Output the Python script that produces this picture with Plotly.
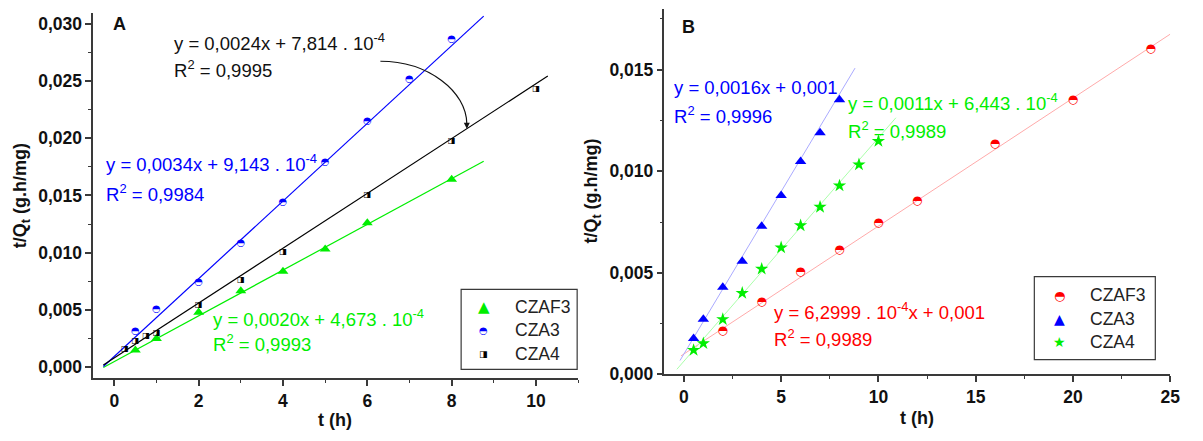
import plotly.graph_objects as go

# ---------------- Panel A : kinetic data (t in h, t/Qt in g.h/mg) ----------------
tA_czaf3 = [0.5, 1, 2, 3, 4, 5, 6, 8]
qA_czaf3 = [0.00145, 0.00247, 0.00477, 0.00664, 0.00835, 0.0103, 0.0126, 0.0164]

tA_cza3 = [0.5, 1, 2, 3, 4, 5, 6, 7, 8]
qA_cza3 = [0.00307, 0.00503, 0.00741, 0.01082, 0.0144, 0.0179, 0.02147, 0.02513, 0.02862]

tA_cza4 = [0.25, 0.5, 0.75, 1, 2, 3, 4, 6, 8, 10]
qA_cza4 = [0.00153, 0.0023, 0.00273, 0.0030, 0.00545, 0.0076, 0.01005, 0.0150, 0.01976, 0.02436]

# linear fits (slope, intercept) and the t-span each fitted line covers
fitA_czaf3 = (0.0020, 4.673e-4)
fitA_cza3 = (0.0034, 9.143e-4)
fitA_cza4 = (0.0024, 7.814e-4)
spanA_czaf3 = (-0.26, 8.76)
spanA_cza3 = (-0.26, 8.76)
spanA_cza4 = (-0.26, 10.28)

# ---------------- Panel B ----------------
tB_czaf3 = [2, 4, 6, 8, 10, 12, 16, 20, 24]
qB_czaf3 = [0.00214, 0.00357, 0.00505, 0.0061, 0.00743, 0.00852, 0.01133, 0.01352, 0.0160]

tB_cza3 = [0.5, 1, 2, 3, 4, 5, 6, 7, 8]
qB_cza3 = [0.00176, 0.00271, 0.00429, 0.00557, 0.00729, 0.00881, 0.01048, 0.0119, 0.01352]

tB_cza4 = [0.5, 1, 2, 3, 4, 5, 6, 7, 8, 9, 10]
qB_cza4 = [0.00119, 0.00152, 0.00271, 0.0040, 0.00519, 0.00624, 0.00733, 0.00824, 0.00929, 0.01033, 0.01148]

fitB_czaf3 = (6.2999e-4, 0.001)
fitB_cza3 = (0.0016, 0.001)
fitB_cza4 = (0.0011, 6.443e-4)
spanB_czaf3 = (-0.15, 25)
spanB_cza3 = (-0.2, 8.8)
spanB_cza4 = (-0.36, 10.9)

series_names = ["CZAF3", "CZA3", "CZA4"]

W, H = 1203, 441
TXT = "Liberation Sans"
GLYPH = "DejaVu Sans"


def fit_line(fit, span):
    a, b = fit
    xs = list(span)
    return xs, [a * x + b for x in xs]


fig = go.Figure()


def add_line(fit, span, color, xa, ya, width=1.2):
    xs, ys = fit_line(fit, span)
    fig.add_trace(go.Scatter(x=xs, y=ys, mode="lines", xaxis=xa, yaxis=ya,
                             line=dict(color=color, width=width),
                             hoverinfo="skip", showlegend=False))


def add_glyphs(xs, ys, glyph, color, size, xa, ya, name):
    fig.add_trace(go.Scatter(x=xs, y=ys, mode="text", text=[glyph] * len(xs),
                             textposition="middle center", name=name,
                             textfont=dict(family=GLYPH, size=size, color=color),
                             xaxis=xa, yaxis=ya, showlegend=False, cliponaxis=False))


def add_markers(xs, ys, symbol, color, size, xa, ya, name):
    fig.add_trace(go.Scatter(x=xs, y=ys, mode="markers", name=name,
                             marker=dict(symbol=symbol, color=color, size=size,
                                         line=dict(width=0)),
                             xaxis=xa, yaxis=ya, showlegend=False, cliponaxis=False))


# Panel A
add_line(fitA_czaf3, spanA_czaf3, "#00ee00", "x", "y")
add_line(fitA_cza3, spanA_cza3, "#0000ff", "x", "y")
add_line(fitA_cza4, spanA_cza4, "#000000", "x", "y")
add_markers(tA_czaf3, qA_czaf3, "triangle-up", "#00ee00", 9.5, "x", "y", series_names[0])
add_glyphs(tA_cza3, qA_cza3, "◓", "#0000ff", 10, "x", "y", series_names[1])
add_glyphs(tA_cza4, qA_cza4, "◨", "#000000", 8, "x", "y", series_names[2])

# Panel B
add_line(fitB_czaf3, spanB_czaf3, "#ffaaaa", "x2", "y2", 1)
add_line(fitB_cza3, spanB_cza3, "#aaaaff", "x2", "y2", 1)
add_line(fitB_cza4, spanB_cza4, "#aaffaa", "x2", "y2", 1)
add_glyphs(tB_czaf3, qB_czaf3, "◓", "#ff0000", 12, "x2", "y2", series_names[0])
add_markers(tB_cza3, qB_cza3, "triangle-up", "#0000ff", 10, "x2", "y2", series_names[1])
add_markers(tB_cza4, qB_cza4, "star", "#00ee00", 10, "x2", "y2", series_names[2])

axis_common = dict(
    showline=True, linecolor="#3a3a3a", linewidth=1.5,
    ticks="outside", ticklen=6, tickwidth=1.5, tickcolor="#3a3a3a",
    showgrid=False, zeroline=False,
    tickfont=dict(family=TXT, size=17.5, color="#111111", weight="bold"),
)

fig.update_layout(
    width=W, height=H, margin=dict(l=0, r=0, t=0, b=0),
    paper_bgcolor="white", plot_bgcolor="white", separators=",.",
    showlegend=False,
    xaxis=dict(domain=[94 / W, 583 / W], range=[-0.5, 11], anchor="y",
               dtick=2, tick0=0, minor=dict(ticks="outside", ticklen=3, dtick=1, tick0=0,
                                            tickcolor="#3a3a3a", tickwidth=1.2),
               **axis_common),
    yaxis=dict(domain=[1 - 387 / H, 1 - 13 / H], range=[-0.001, 0.031], anchor="x",
               dtick=0.005, tick0=0, tickformat=".3f",
               minor=dict(ticks="outside", ticklen=3, dtick=0.0025, tick0=0,
                          tickcolor="#3a3a3a", tickwidth=1.2),
               **axis_common),
    xaxis2=dict(domain=[670 / W, 1180 / W], range=[-1, 25], anchor="y2",
                dtick=5, tick0=0, minor=dict(ticks="outside", ticklen=3, dtick=2.5, tick0=0,
                                             tickcolor="#3a3a3a", tickwidth=1.2),
                **axis_common),
    yaxis2=dict(domain=[1 - 383 / H, 1 - 9 / H], range=[0, 0.018], anchor="x2",
                dtick=0.005, tick0=0, tickformat=".3f",
                minor=dict(ticks="outside", ticklen=3, dtick=0.0025, tick0=0,
                           tickcolor="#3a3a3a", tickwidth=1.2),
                **axis_common),
)

ann = []


def label(x, y, text, color, xref="x", yref="y", size=18.5, bold=False, anchor="left", angle=0):
    ann.append(dict(x=x, y=y, xref=xref, yref=yref, text=text, showarrow=False,
                    xanchor=anchor, yanchor="middle", textangle=angle,
                    font=dict(family=TXT, size=size, color=color,
                              weight="bold" if bold else "normal")))


# panel letters
label(-0.07, 0.0300, "A", "#111111", size=18, bold=True)
label(-0.2, 0.0171, "B", "#111111", xref="x2", yref="y2", size=18, bold=True)

# fit equations, panel A
label(1.36, 0.02845, "y = 0,0024x + 7,814 . 10<sup>-4</sup>", "#111111")
label(1.36, 0.02607, "R<sup>2</sup> = 0,9995", "#111111")
label(-0.235, 0.0178, "y = 0,0034x + 9,143 . 10<sup>-4</sup>", "#0000ff")
label(-0.235, 0.01525, "R<sup>2</sup> = 0,9984", "#0000ff")
label(2.30, 0.00426, "y = 0,0020x + 4,673 . 10<sup>-4</sup>", "#00ee00")
label(2.30, 0.00204, "R<sup>2</sup> = 0,9993", "#00ee00")

# fit equations, panel B
label(-0.61, 0.0141, "y = 0,0016x + 0,001", "#0000ff", xref="x2", yref="y2")
label(-0.61, 0.01276, "R<sup>2</sup> = 0,9996", "#0000ff", xref="x2", yref="y2")
label(8.34, 0.01343, "y = 0,0011x + 6,443 . 10<sup>-4</sup>", "#00ee00", xref="x2", yref="y2")
label(8.34, 0.01205, "R<sup>2</sup> = 0,9989", "#00ee00", xref="x2", yref="y2")
label(4.53, 0.00314, "y = 6,2999 . 10<sup>-4</sup>x + 0,001", "#ff0000", xref="x2", yref="y2")
label(4.53, 0.00181, "R<sup>2</sup> = 0,9989", "#ff0000", xref="x2", yref="y2")

# axis titles
ytitle = "t/Q<sub>t</sub> (g.h/mg)"
label(22 / W, 1 - 200 / H, ytitle, "#111111", xref="paper", yref="paper", size=18,
      bold=True, anchor="center", angle=-90)
label(598 / W, 1 - 196 / H, ytitle, "#111111", xref="paper", yref="paper", size=18,
      bold=True, anchor="center", angle=-90)
label(338 / W, 1 - 430 / H, "t (h)", "#111111", xref="paper", yref="paper", size=18,
      bold=True, anchor="center")
label(925 / W, 1 - 428 / H, "t (h)", "#111111", xref="paper", yref="paper", size=18,
      bold=True, anchor="center")

# curved pointer from the black equation to its fitted line
arc_start = (6.31, 0.02675)
arc_end_t = 8.36
arc_end = (arc_end_t, fitA_cza4[0] * arc_end_t + fitA_cza4[1])
k = 0.5523
c1 = (arc_start[0] + k * (arc_end[0] - arc_start[0]), arc_start[1])
c2 = (arc_end[0], arc_end[1] + k * (arc_start[1] - arc_end[1]))
shapes = [dict(type="path", xref="x", yref="y",
               path=f"M {arc_start[0]},{arc_start[1]} C {c1[0]},{c1[1]} {c2[0]},{c2[1]} "
                    f"{arc_end[0]},{arc_end[1] + 0.0004}",
               line=dict(color="#111111", width=1.2))]
ann.append(dict(x=arc_end[0], y=arc_end[1], xref="x", yref="y",
                ax=arc_end[0], ay=arc_end[1] + 0.0006, axref="x", ayref="y",
                showarrow=True, arrowhead=2, arrowsize=1, arrowwidth=1.2,
                arrowcolor="#111111", text="", standoff=0))

# legend boxes
legend_boxes = [(465, 296, 582, 378), (1043, 283, 1165, 368)]
for x0, y0, x1, y1 in legend_boxes:
    shapes.append(dict(type="rect", xref="paper", yref="paper",
                       x0=x0 / W, x1=x1 / W, y0=1 - y1 / H, y1=1 - y0 / H,
                       line=dict(color="#3a3a3a", width=1.2), fillcolor="white",
                       layer="above"))

legA_glyphs = [("▲", "#00ee00", 15), ("◓", "#0000ff", 10), ("◨", "#000000", 9)]
legB_glyphs = [("◓", "#ff0000", 13), ("▲", "#0000ff", 14), ("★", "#00ee00", 14)]
legA_rows = [314, 338, 362]
legB_rows = [302, 326, 350]
for (g, c, s), name, row in zip(legA_glyphs, series_names, legA_rows):
    ann.append(dict(x=488 / W, y=1 - row / H, xref="paper", yref="paper", text=g,
                    showarrow=False, xanchor="center", yanchor="middle",
                    font=dict(family=GLYPH, size=s, color=c)))
    label(517 / W, 1 - row / H, name, "#222222", xref="paper", yref="paper", size=17.5)
for (g, c, s), name, row in zip(legB_glyphs, series_names, legB_rows):
    ann.append(dict(x=1068 / W, y=1 - row / H, xref="paper", yref="paper", text=g,
                    showarrow=False, xanchor="center", yanchor="middle",
                    font=dict(family=GLYPH, size=s, color=c)))
    label(1097 / W, 1 - row / H, name, "#222222", xref="paper", yref="paper", size=17.5)

fig.update_layout(annotations=ann, shapes=shapes)
fig.write_html("out.html")
